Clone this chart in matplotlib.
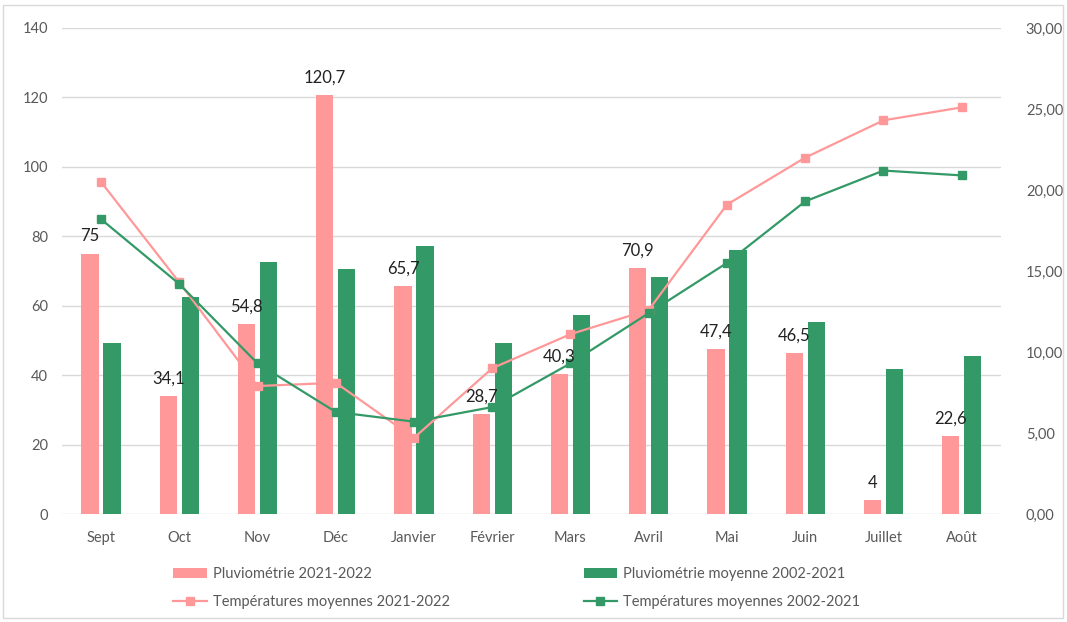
import numpy as np
import matplotlib
matplotlib.use("Agg")
import matplotlib.pyplot as plt
from matplotlib.patches import Rectangle
from matplotlib.ticker import FuncFormatter

plt.rcParams['font.family'] = ['Lato', 'DejaVu Sans']

mois = ["Sept", "Oct", "Nov", "Déc", "Janvier", "Février", "Mars", "Avril",
        "Mai", "Juin", "Juillet", "Août"]
pluvio_2022 = [75, 34.1, 54.8, 120.7, 65.7, 28.7, 40.3, 70.9, 47.4, 46.5, 4, 22.6]
pluvio_moy = [49.2, 62.5, 72.5, 70.5, 77.1, 49.2, 57.3, 68.2, 76.1, 55.3, 41.7, 45.5]
temp_2022 = [20.5, 14.3, 7.9, 8.1, 4.7, 9.0, 11.1, 12.6, 19.1, 22.0, 24.3, 25.1]
temp_moy = [18.2, 14.2, 9.3, 6.3, 5.7, 6.6, 9.3, 12.4, 15.5, 19.3, 21.2, 20.9]

rose = "#FF9999"
vert = "#339966"
gris = "#595959"

fig = plt.figure(figsize=(10.67, 6.22), dpi=100)
ax = fig.add_axes([0.058, 0.1736, 0.880, 0.7814])
ax2 = ax.twinx()

x = np.arange(len(mois))
w = 0.22
b1 = ax.bar(x - 0.14, pluvio_2022, w, color=rose, label="Pluviométrie 2021-2022", zorder=2)
b2 = ax.bar(x + 0.14, pluvio_moy, w, color=vert, label="Pluviométrie moyenne 2002-2021", zorder=2)

l1, = ax2.plot(x, temp_2022, color=rose, lw=1.6, marker="s", ms=6,
               label="Températures moyennes 2021-2022")
l2, = ax2.plot(x, temp_moy, color=vert, lw=1.6, marker="s", ms=6,
               label="Températures moyennes 2002-2021")

# valeurs au-dessus des barres roses
for xi, v in zip(x, pluvio_2022):
    lab = ("%g" % v).replace(".", ",")
    ax2.text(xi - 0.14, v + 5, lab, transform=ax.transData, ha="center",
             va="center", fontsize=12, color="#222222", zorder=5)

ax.set_xlim(-0.5, len(mois) - 0.5)
ax.set_ylim(0, 140)
ax.set_yticks(np.arange(0, 141, 20))
ax2.set_ylim(0, 30)
ax2.set_yticks(np.arange(0, 31, 5))
ax2.yaxis.set_major_formatter(FuncFormatter(lambda v, p: ("%.2f" % v).replace(".", ",")))

ax.set_xticks(x)
ax.set_xticklabels(mois)
ax.grid(axis="y", color="#D9D9D9", lw=1, zorder=0)
ax.set_axisbelow(True)
for a in (ax, ax2):
    for s in a.spines.values():
        s.set_visible(False)
    a.tick_params(length=0, labelsize=10.5, labelcolor=gris)
ax.tick_params(axis="x", pad=12)
ax.tick_params(axis="y", pad=10)
ax2.tick_params(axis="y", pad=18)

fig.legend(handles=[b1, l1, b2, l2], loc="lower left", bbox_to_anchor=(0.150, 0.0),
           ncol=2, frameon=False, fontsize=10.5, labelcolor=gris,
           columnspacing=9.2, handlelength=2.3, handletextpad=0.4, labelspacing=0.95)

fig.patches.append(Rectangle((0.003, 0.006), 0.993, 0.986, transform=fig.transFigure,
                             fill=False, edgecolor="#D9D9D9", lw=1))

fig.savefig("out.png", dpi=100)
